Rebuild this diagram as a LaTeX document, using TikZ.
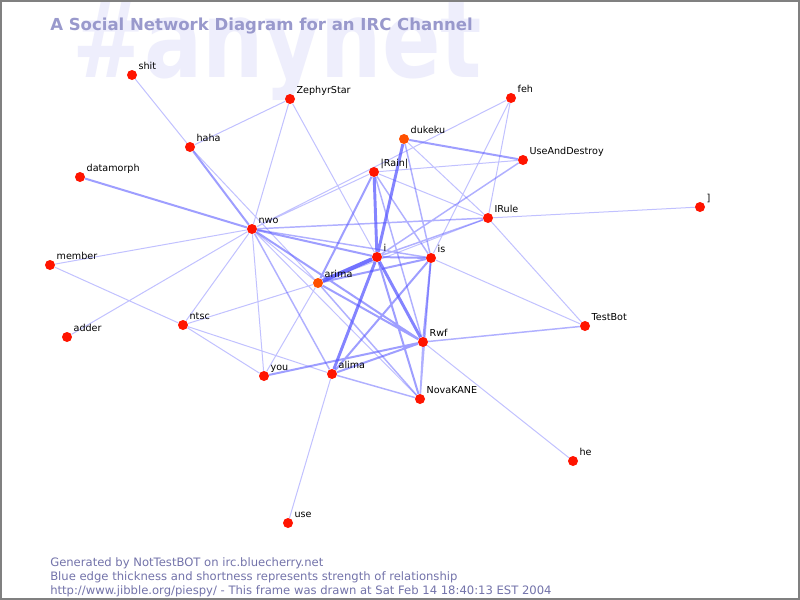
\documentclass[tikz,border=0pt]{standalone}
\usepackage{fontspec}
\setmainfont{DejaVu Sans}
\usetikzlibrary{backgrounds}

\definecolor{nodered}{RGB}{255,20,0}
\definecolor{nodeorange}{RGB}{255,80,0}
\definecolor{edgeblue}{RGB}{80,80,255}
\definecolor{titleblue}{RGB}{153,153,204}
\definecolor{markblue}{RGB}{238,238,252}
\definecolor{footblue}{RGB}{115,115,170}
\definecolor{framegray}{RGB}{128,128,128}

\tikzset{
  user/.style={circle, fill=nodered, inner sep=0pt, minimum size=7.5pt},
  hot/.style={user, fill=nodeorange},
  lbl/.style={anchor=base west, inner sep=0pt, font=\fontsize{7.2}{8}\selectfont, xshift=2pt, yshift=1pt},
  weak/.style={draw=edgeblue, draw opacity=0.35, line width=0.75pt},
  fair/.style={draw=edgeblue, draw opacity=0.45, line width=1.1pt},
  strong/.style={draw=edgeblue, draw opacity=0.55, line width=1.5pt},
  heavy/.style={draw=edgeblue, draw opacity=0.7, line width=2.2pt},
  heaviest/.style={draw=edgeblue, draw opacity=0.8, line width=3pt},
  foot/.style={anchor=base west, inner sep=0pt, text=footblue, font=\fontsize{8.7}{10}\selectfont}
}

\begin{document}
\begin{tikzpicture}[x=0.75pt, y=-0.75pt]

  \useasboundingbox (0,0) rectangle (800,600);

  % Users
  \node[user, label={[lbl]45:shit}] (shit) at (132,75) {};
  \node[user, label={[lbl]45:ZephyrStar}] (zephyr) at (290,99) {};
  \node[user, label={[lbl]45:haha}] (haha) at (190,147) {};
  \node[user, label={[lbl]45:datamorph}] (datamorph) at (80,177) {};
  \node[user, label={[lbl]45:nwo}] (nwo) at (252,229) {};
  \node[user, label={[lbl]45:member}] (member) at (50,265) {};
  \node[user, label={[lbl]45:adder}] (adder) at (67,337) {};
  \node[user, label={[lbl]45:ntsc}] (ntsc) at (183,325) {};
  \node[user, label={[lbl]45:you}] (you) at (264,376) {};
  \node[user, label={[lbl]45:alima}] (alima) at (332,374) {};
  \node[hot, label={[lbl]45:arima}] (arima) at (318,283) {};
  \node[user, label={[lbl]45:i}] (i) at (377,257) {};
  \node[user, label={[lbl]45:is}] (is) at (431,258) {};
  \node[user, label={[lbl]45:|Rain|}] (rain) at (374,172) {};
  \node[hot, label={[lbl]45:dukeku}] (dukeku) at (404,139) {};
  \node[user, label={[lbl]45:feh}] (feh) at (511,98) {};
  \node[user, label={[lbl]45:UseAndDestroy}] (destroy) at (523,160) {};
  \node[user, label={[lbl]45:{]}}] (bracket) at (700,207) {};
  \node[user, label={[lbl]45:IRule}] (irule) at (488,218) {};
  \node[user, label={[lbl]45:TestBot}] (testbot) at (585,326) {};
  \node[user, label={[lbl]45:Rwf}] (rwf) at (423,342) {};
  \node[user, label={[lbl]45:NovaKANE}] (nova) at (420,399) {};
  \node[user, label={[lbl]45:he}] (he) at (573,461) {};
  \node[user, label={[lbl]45:use}] (use) at (288,523) {};

  % Title and notes
  \node[anchor=base west, inner sep=0pt, text=titleblue, font=\fontsize{12.4}{14}\selectfont\bfseries] (title) at (50,30) {A Social Network Diagram for an IRC Channel};
  \node[foot] (gen) at (50,566) {Generated by NotTestBOT on irc.bluecherry.net};
  \node[foot] (legend) at (50,580) {Blue edge thickness and shortness represents strength of relationship};
  \node[foot] (stamp) at (50,594) {http://www.jibble.org/piespy/ - This frame was drawn at Sat Feb 14 18:40:13 EST 2004};

  \begin{scope}[on background layer]
    \fill[white] (0,0) rectangle (800,600);
    \node[anchor=base west, inner sep=0pt, text=markblue, font=\fontsize{80}{84}\selectfont\bfseries, xscale=0.81, transform shape] (channel) at (72,77) {\#anynet};

    % Edges
    \draw[weak] (shit) -- (haha) (haha) -- (zephyr) (zephyr) -- (nwo) (zephyr) -- (i)
      (haha) -- (arima) (member) -- (nwo) (member) -- (ntsc) (adder) -- (nwo)
      (ntsc) -- (nwo) (ntsc) -- (arima) (ntsc) -- (you) (ntsc) -- (alima)
      (nwo) -- (you) (you) -- (arima) (alima) -- (use) (nwo) -- (rain)
      (nwo) -- (feh) (nwo) -- (nova) (feh) -- (irule) (feh) -- (is)
      (dukeku) -- (irule) (rain) -- (irule) (rain) -- (destroy) (irule) -- (bracket)
      (irule) -- (testbot) (is) -- (testbot) (rwf) -- (he) (arima) -- (irule)
      (nwo) -- (arima);
    \draw[fair] (nwo) -- (is) (nwo) -- (irule) (i) -- (irule) (i) -- (destroy)
      (is) -- (nova) (rwf) -- (nova) (alima) -- (nova) (rwf) -- (testbot)
      (rain) -- (is) (rain) -- (rwf) (dukeku) -- (is) (nwo) -- (alima)
      (arima) -- (nova);
    \draw[strong] (datamorph) -- (nwo) (nwo) -- (i) (arima) -- (is) (arima) -- (rain)
      (alima) -- (rwf) (you) -- (rwf) (i) -- (is) (i) -- (nova) (arima) -- (rwf)
      (dukeku) -- (destroy) (haha) -- (nwo) (nwo) -- (rwf) (is) -- (rwf) (is) -- (alima);
    \draw[heavy] (i) -- (rain) (i) -- (alima) (i) -- (dukeku) (i) -- (rwf);
    \draw[heaviest] (i) -- (arima);
  \end{scope}

  % Frame
  \draw[framegray, line width=1.2pt] (0.8,0.8) rectangle (799.2,599.2);

\end{tikzpicture}
\end{document}
